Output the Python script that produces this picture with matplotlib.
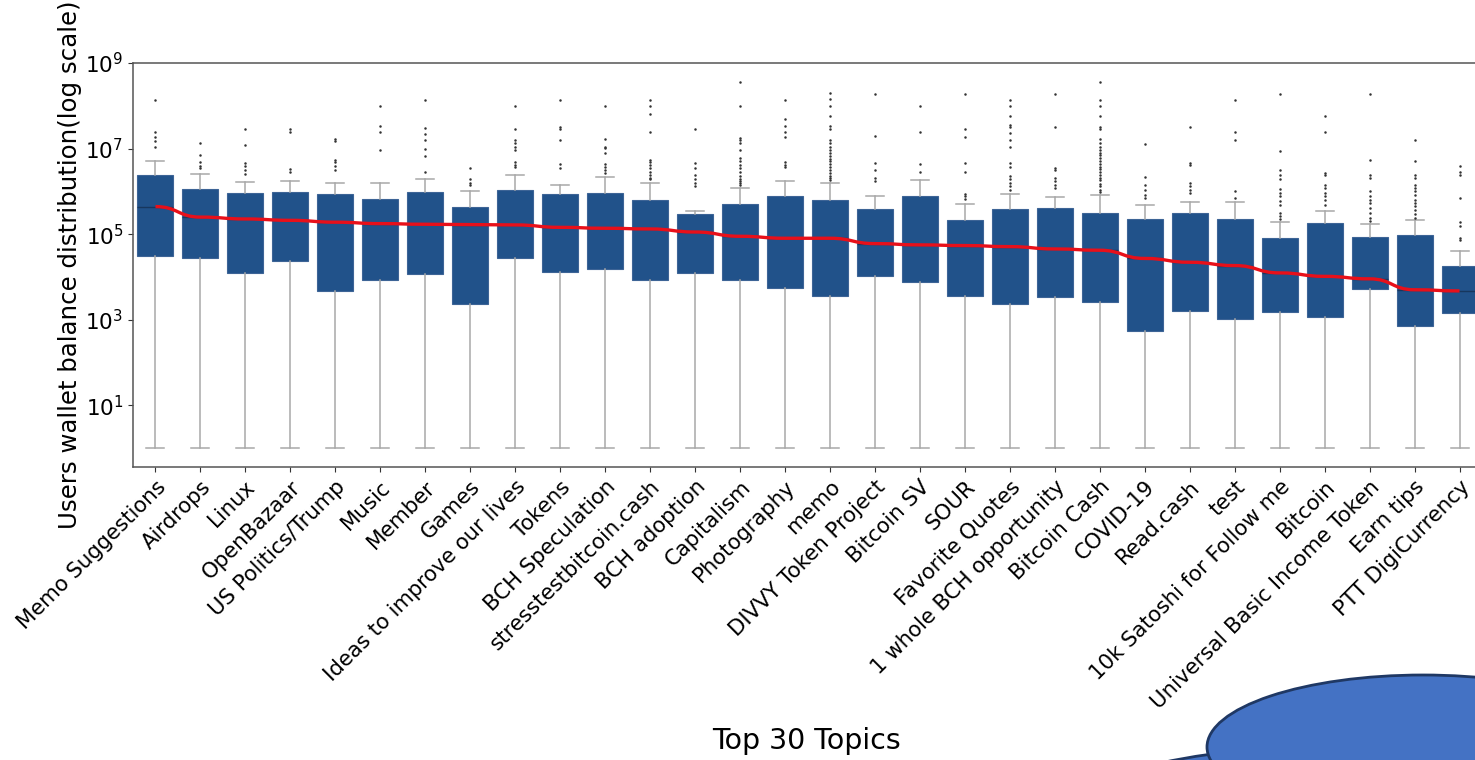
import numpy as np
import matplotlib
matplotlib.use("Agg")
import matplotlib.pyplot as plt
from matplotlib.path import Path
from matplotlib.patches import PathPatch, Ellipse

topics = ["Memo Suggestions", "Airdrops", "Linux", "OpenBazaar", "US Politics/Trump",
          "Music", "Member", "Games", "Ideas to improve our lives", "Tokens",
          "BCH Speculation", "stresstestbitcoin.cash", "BCH adoption", "Capitalism",
          "Photography", "memo", "DIVVY Token Project", "Bitcoin SV", "SOUR",
          "Favorite Quotes", "1 whole BCH opportunity", "Bitcoin Cash", "COVID-19",
          "Read.cash", "test", "10k Satoshi for Follow me", "Bitcoin",
          "Universal Basic Income Token", "Earn tips", "PTT DigiCurrency"]

# per-topic box statistics (satoshi)
medians = [4.4e5, 2.5e5, 2.26e5, 2.1e5, 1.9e5, 1.76e5, 1.7e5, 1.67e5, 1.64e5, 1.44e5,
           1.37e5, 1.32e5, 1.12e5, 8.9e4, 8.0e4, 8.0e4, 6.0e4, 5.6e4, 5.4e4, 5.1e4,
           4.5e4, 4.2e4, 2.7e4, 2.2e4, 1.84e4, 1.24e4, 1.03e4, 9.0e3, 5.0e3, 4.7e3]
q1 = [3.1e4, 2.7e4, 1.26e4, 2.4e4, 4.8e3, 8.5e3, 1.17e4, 2.3e3, 2.7e4, 1.3e4,
      1.56e4, 8.6e3, 1.24e4, 8.3e3, 5.5e3, 3.5e3, 1.03e4, 7.4e3, 3.5e3, 2.3e3,
      3.4e3, 2.55e3, 5.3e2, 1.6e3, 1.04e3, 1.55e3, 1.16e3, 5.2e3, 7.0e2, 1.4e3]
q3 = [2.4e6, 1.16e6, 9.2e5, 9.5e5, 8.7e5, 6.7e5, 9.5e5, 4.2e5, 1.05e6, 8.8e5,
      9.3e5, 6.3e5, 3.0e5, 5.0e5, 7.6e5, 6.4e5, 3.9e5, 7.6e5, 2.1e5, 3.9e5,
      4.1e5, 3.2e5, 2.3e5, 3.2e5, 2.3e5, 7.9e4, 1.86e5, 8.6e4, 9.4e4, 1.77e4]
whisker_hi = [5.1e6, 2.55e6, 1.66e6, 1.78e6, 1.6e6, 1.57e6, 1.9e6, 1.04e6, 2.45e6, 1.4e6,
              2.2e6, 1.54e6, 3.5e5, 1.22e6, 1.78e6, 1.57e6, 7.9e5, 1.8e6, 5.1e5, 8.8e5,
              7.5e5, 8.1e5, 4.7e5, 5.6e5, 5.7e5, 1.9e5, 3.5e5, 1.7e5, 2.15e5, 4.0e4]
whisker_lo = [1.0] * 30

outliers = [
    [1.4e8, 2.5e7, 1.9e7, 1.5e7, 1.1e7],
    [1.35e7, 6.9e6, 4.9e6, 4.0e6, 3.5e6],
    [2.9e7, 1.2e7, 4.6e6, 4.0e6, 3.1e6, 2.6e6],
    [2.9e7, 2.5e7, 3.3e6, 2.8e6],
    [1.7e7, 1.5e7, 5.5e6, 4.8e6, 4.0e6, 3.1e6],
    [9.7e7, 3.3e7, 2.5e7, 9.3e6],
    [1.4e8, 3.0e7, 2.2e7, 1.6e7, 9.8e6, 6.6e6, 2.8e6],
    [3.6e6, 1.9e6, 1.6e6, 1.4e6],
    [1.0e8, 2.8e7, 1.6e7, 1.35e7, 1.1e7, 9.4e6, 4.8e6, 4.2e6, 3.8e6],
    [1.4e8, 3.2e7, 2.9e7, 1.6e7, 4.4e6, 3.6e6],
    [1.0e8, 1.7e7, 1.1e7, 1.03e7, 7.9e6, 4.4e6, 3.8e6, 3.2e6, 2.7e6],
    [1.4e8, 1.0e8, 6.5e7, 2.5e7, 5.5e6, 4.8e6, 4.2e6, 3.5e6, 2.9e6, 2.45e6, 2.06e6, 1.9e6],
    [2.9e7, 4.6e6, 3.5e6, 2.45e6, 1.9e6, 1.57e6, 1.3e6],
    [3.6e8, 1.0e8, 1.77e7, 1.6e7, 1.35e7, 9.4e6, 6.0e6, 5.0e6, 4.2e6, 3.5e6, 2.9e6,
     2.24e6, 1.9e6, 1.7e6, 1.57e6, 1.4e6],
    [1.4e8, 4.9e7, 3.3e7, 2.5e7, 1.9e7, 4.8e6, 4.2e6, 3.7e6],
    [2.0e8, 1.44e8, 1.0e8, 5.9e7, 3.4e7, 2.8e7, 1.6e7, 1.35e7, 1.1e7, 9.4e6, 8.0e6,
     6.8e6, 5.8e6, 5.0e6, 4.3e6, 3.7e6, 3.1e6, 2.7e6, 2.3e6, 2.0e6, 1.8e6],
    [1.9e8, 2.0e7, 4.6e6, 3.2e6, 2.06e6, 1.7e6],
    [1.0e8, 2.5e7, 4.4e6, 2.9e6],
    [1.9e8, 2.9e7, 1.9e7, 4.6e6, 2.8e6, 8.8e5, 7.6e5, 6.6e5],
    [1.4e8, 1.0e8, 5.9e7, 3.6e7, 3.2e7, 2.3e7, 1.6e7, 1.09e7, 4.6e6, 3.8e6, 2.24e6,
     1.9e6, 1.57e6, 1.3e6, 1.1e6],
    [1.9e8, 3.2e7, 3.5e6, 3.2e6, 2.06e6, 1.7e6, 1.4e6, 1.2e6],
    [3.6e8, 1.4e8, 1.0e8, 5.9e7, 3.2e7, 2.8e7, 1.7e7, 1.35e7, 1.1e7, 9.4e6, 8.0e6,
     6.9e6, 5.9e6, 5.1e6, 4.4e6, 3.8e6, 3.3e6, 2.8e6, 2.4e6, 2.1e6, 1.8e6, 1.5e6,
     1.3e6, 1.1e6, 9.5e5],
    [1.3e7, 2.2e6, 1.4e6, 1.1e6, 8.4e5, 7.0e5],
    [3.2e7, 4.6e6, 4.2e6, 1.6e6, 1.3e6, 1.1e6, 9.2e5],
    [1.4e8, 2.5e7, 1.56e7, 1.0e6, 7.0e5],
    [1.9e8, 8.6e6, 3.1e6, 2.45e6, 1.9e6, 1.14e6, 9.2e5, 7.6e5, 5.8e5, 4.9e5, 3.1e5,
     2.6e5, 2.2e5],
    [5.9e7, 2.5e7, 2.7e6, 2.45e6, 1.4e6, 1.2e6, 9.2e5, 7.6e5, 6.4e5, 4.9e5],
    [1.9e8, 5.5e6, 2.45e6, 2.06e6, 1.0e6, 7.6e5, 6.4e5, 5.4e5, 4.1e5, 3.1e5, 2.4e5, 2.0e5],
    [1.56e7, 5.0e6, 2.45e6, 2.06e6, 1.4e6, 1.2e6, 1.0e6, 8.4e5, 6.4e5, 5.4e5, 4.5e5,
     3.7e5, 2.9e5, 2.4e5],
    [4.0e6, 2.8e6, 2.45e6, 6.9e5, 1.9e5, 1.58e5, 8.1e4, 7.4e4],
]

BOX = "#21528a"
W, H = 1475, 760

fig = plt.figure(figsize=(W / 100, H / 100), dpi=100)
ax = fig.add_axes([133 / W, 293 / H, 1349 / W, 404 / H])

stats = [dict(med=m, q1=a, q3=b, whislo=lo, whishi=hi, fliers=f, label=t)
         for t, m, a, b, lo, hi, f in zip(topics, medians, q1, q3, whisker_lo,
                                          whisker_hi, outliers)]
pos = np.arange(len(topics))
ax.bxp(stats, positions=pos, widths=0.8, capwidths=0.4, patch_artist=True,
       boxprops=dict(facecolor=BOX, edgecolor="#3d6496", linewidth=0.8),
       medianprops=dict(color="#17375e", linewidth=1.0),
       whiskerprops=dict(color="#a8a8a8", linewidth=1.1),
       capprops=dict(color="#a8a8a8", linewidth=1.1),
       flierprops=dict(marker="o", markersize=1.8, markerfacecolor="#333333",
                       markeredgecolor="none"))

# smooth median trend: horizontal tangent at every median
verts = [(pos[0], medians[0])]
codes = [Path.MOVETO]
for i in range(len(pos) - 1):
    verts += [(pos[i] + 0.5, medians[i]), (pos[i] + 0.5, medians[i + 1]),
              (pos[i + 1], medians[i + 1])]
    codes += [Path.CURVE4] * 3
ax.add_patch(PathPatch(Path(verts, codes), facecolor="none", edgecolor="#e8101a",
                       linewidth=2.4, zorder=5))

ax.set_yscale("log")
ax.set_ylim(0.36, 1e9)
ax.set_xlim(-0.5, len(topics) - 0.5)
ax.set_yticks([1e1, 1e3, 1e5, 1e7, 1e9])
ax.yaxis.set_minor_locator(matplotlib.ticker.NullLocator())
ax.set_xticks(pos)
ax.set_xticklabels(topics, rotation=45, ha="right", rotation_mode="anchor", fontsize=15.3)
ax.tick_params(axis="y", labelsize=15.5)
ax.tick_params(colors="#333333", labelcolor="black")
for s in ax.spines.values():
    s.set_color("#555555")
    s.set_linewidth(1.1)

ax.set_ylabel("Users wallet balance distribution(log scale)", fontsize=17.6)
ax.yaxis.set_label_coords(-0.038, 0.5)
fig.text(807 / W, 1 - 741 / H, "Top 30 Topics", fontsize=20.5, ha="center", va="center")

# callout shapes in the lower right corner
fig.patches.append(Ellipse((1350 / W, 1 - 825 / H), 600 / W, 160 / H,
                           transform=fig.transFigure, facecolor="#4472c4",
                           edgecolor="#1f3864", linewidth=2))
fig.patches.append(Ellipse((1423 / W, 1 - 747 / H), 432 / W, 144 / H,
                           transform=fig.transFigure, facecolor="#4472c4",
                           edgecolor="#1f3864", linewidth=2))

fig.savefig("out.png", dpi=100)
